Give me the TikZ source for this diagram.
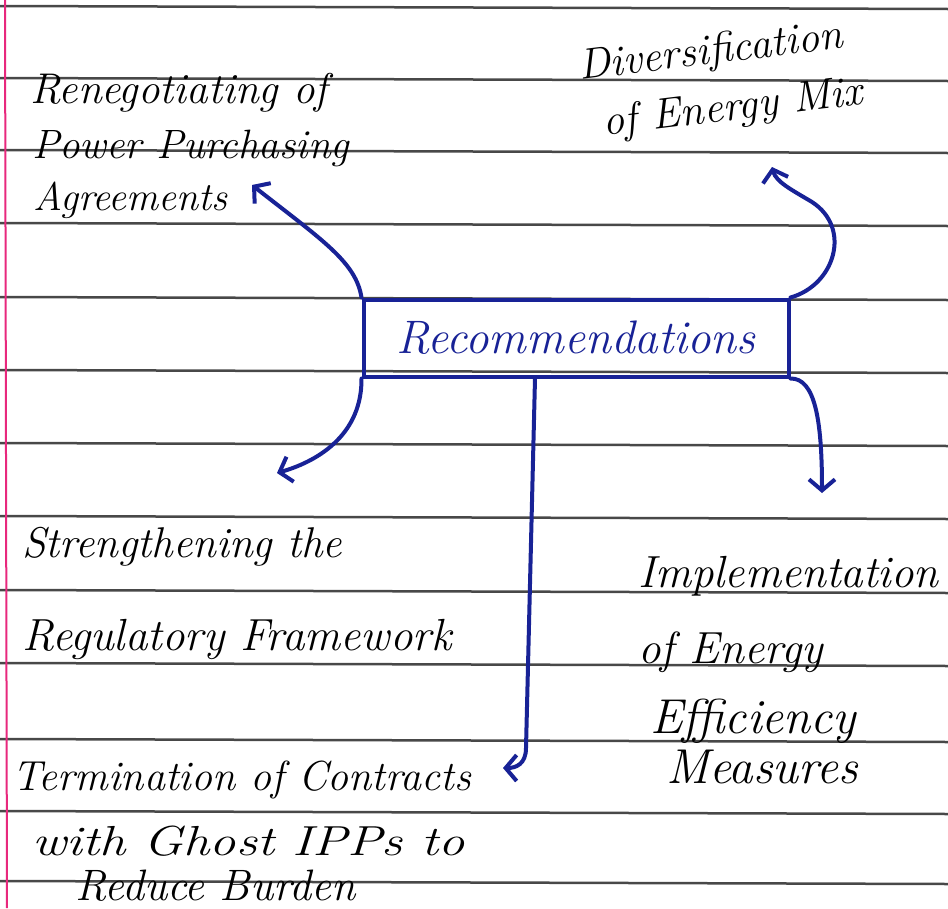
\documentclass[tikz,border=0pt]{standalone}
\usetikzlibrary{arrows.meta}
\definecolor{ink}{RGB}{24,34,150}
\definecolor{rulegray}{RGB}{72,72,72}
\definecolor{marginpink}{RGB}{232,40,125}
\begin{document}
\begin{tikzpicture}[x=1pt,y=-1pt,
  hand/.style={font=\fontsize{#1}{#1}\selectfont\itshape, inner sep=0pt, anchor=base west, text=black},
  hand/.default=42,
  boxtext/.style={font=\fontsize{47}{50}\selectfont\itshape, text=ink},
  link/.style={draw=ink, line width=4pt, line cap=round, line join=round,
    -{Straight Barb[length=11pt,width=26pt]}},
  paperrule/.style={draw=rulegray, line width=2.5pt}]
\useasboundingbox (0,0) rectangle (948,908);
\fill[white] (0,0) rectangle (948,908);
% notebook rules
\foreach \yy in {6,78,150,223,297,370,443,516,590,663,739,811,881}
  \draw[paperrule] (0,\yy) -- (948,\yy+3);
\draw[marginpink, line width=2pt] (5,0) -- (7,908);

% central box
\node[draw=ink, line width=4pt, minimum width=425pt, minimum height=77pt, inner sep=0pt, boxtext] (rec) at (576,338) {Recommendations};

% texts
\node[hand=43] (t1a) at (30,103) {Renegotiating of};
\node[hand=41] (t1b) at (32,158) {Power Purchasing};
\node[hand=40] (t1c) at (33,210) {Agreements};

\node[hand=43, rotate=7] (t2a) at (580,80) {Diversification};
\node[hand=43, rotate=7] (t2b) at (604,136) {of Energy Mix};

\node[hand=43] (t3a) at (22,557) {Strengthening the};
\node[hand=45] (t3b) at (22,650) {Regulatory Framework};

\node[hand=45] (t4a) at (638,587) {Implementation};
\node[hand=45] (t4b) at (638,663) {of Energy};
\node[hand=49] (t4c) at (650,733) {Efficiency};
\node[hand=49] (t4d) at (666,783) {Measures};

\node[hand=42] (t5a) at (12,790) {Termination of Contracts};
\node[hand=42] (t5b) at (32,855) {\scalebox{1.25}[1]{with Ghost IPPs to}};
\node[hand=44] (t5c) at (75,900) {Reduce Burden};

% arrow ends
\coordinate (e1) at (252,185);
\coordinate (e2) at (772,167);
\coordinate (e3) at (277,473);
\coordinate (e4) at (822,493);
\coordinate (e5) at (503,768);
\coordinate (s5) at ([xshift=-41pt]rec.south);

\draw[link] (rec.north west) .. controls (356,262) and (322,240) .. (e1);
\draw[link] (rec.north east) .. controls (835,285) and (852,228) .. (812,202)
   .. controls (792,190) and (776,182) .. (e2);
\draw[link] (rec.south west) .. controls (362,432) and (322,460) .. (e3);
\draw[link] (rec.south east) .. controls (815,378) and (822,420) .. (e4);
\draw[link] (s5) -- (526,748) .. controls (526,764) and (516,768) .. (e5);
\end{tikzpicture}
\end{document}
